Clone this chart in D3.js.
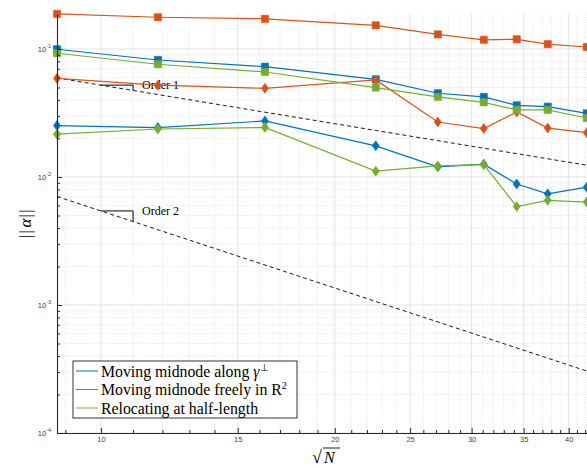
<!DOCTYPE html>
<html>
<head>
<meta charset="utf-8">
<script src="https://cdn.jsdelivr.net/npm/d3@7"></script>
<style>
  body { margin: 0; background: #fff; }
  svg { display: block; }
</style>
</head>
<body>
<svg id="chart" width="587" height="468"></svg>
<script>
// sqrt(N) at each refinement level
const sqrtN = [8.78, 11.84, 16.26, 22.58, 27.14, 31.10, 34.29, 37.59, 42.2];

// square markers (upper curves) and diamond markers (lower curves)
const alongSq = [0.0995, 0.0820, 0.0727, 0.0579, 0.0451, 0.0422, 0.0363, 0.0354, 0.0314];
const alongDi = [0.0252, 0.0243, 0.0274, 0.0175, 0.0120, 0.0126, 0.00881, 0.00738, 0.00832];
const freeSq = [0.188, 0.177, 0.172, 0.153, 0.130, 0.118, 0.119, 0.109, 0.1036];
const freeDi = [0.0590, 0.0521, 0.0493, 0.0573, 0.0269, 0.0239, 0.0322, 0.0241, 0.0222];
const halfSq = [0.0926, 0.0760, 0.0661, 0.0499, 0.0422, 0.0383, 0.0334, 0.0334, 0.0289];
const halfDi = [0.0216, 0.0237, 0.0244, 0.0111, 0.0122, 0.0125, 0.00587, 0.00657, 0.00637];

// reference slopes: end points and the little slope triangles (x from 10 to 11)
const orderX = [8.78, 43.5];
const order1Y = [0.0594, 0.01199];
const order2Y = [0.00704, 0.000287];
const triX = [10, 11];
const tri1Y = [0.0522, 0.0474];
const tri2Y = [0.00543, 0.00449];
const orderLabels = ['Order 1', 'Order 2'];

const xTicks = [10, 15, 20, 25, 30, 35, 40];
const yTicks = [1e-4, 1e-3, 1e-2, 1e-1];

const legendNames = ['Moving midnode along ', 'Moving midnode freely in R', 'Relocating at half-length'];
const colors = ['#0072BD', '#D95319', '#77AC30'];

const series = [
  {sq: alongSq, di: alongDi, color: colors[0]},
  {sq: freeSq, di: freeDi, color: colors[1]},
  {sq: halfSq, di: halfDi, color: colors[2]}
];

const svg = d3.select('#chart');
const x = d3.scaleLog().domain([8.78, 43.5]).range([57, 597]);
const y = d3.scaleLog().domain([1e-4, 0.1876]).range([433, 14]);
const [x0, x1] = x.range();
const [y0, y1] = y.range();

const xMinor = d3.range(9, 44).filter(v => !xTicks.includes(v));
const yMinor = [];
[-4, -3, -2].forEach(e => { for (let k = 2; k <= 9; k++) yMinor.push(k * Math.pow(10, e)); });

// grid
const grid = svg.append('g');
grid.selectAll('.vmin').data(xMinor).join('line')
  .attr('x1', d => x(d)).attr('x2', d => x(d)).attr('y1', y0).attr('y2', y1)
  .attr('stroke', '#cfcfcf').attr('stroke-width', 0.6).attr('stroke-dasharray', '1,1.5');
grid.selectAll('.hmin').data(yMinor).join('line')
  .attr('y1', d => y(d)).attr('y2', d => y(d)).attr('x1', x0).attr('x2', x1)
  .attr('stroke', '#cfcfcf').attr('stroke-width', 0.6).attr('stroke-dasharray', '1,1.5');
grid.selectAll('.vmaj').data(xTicks).join('line')
  .attr('x1', d => x(d)).attr('x2', d => x(d)).attr('y1', y0).attr('y2', y1)
  .attr('stroke', '#e3e3e3').attr('stroke-width', 1);
grid.selectAll('.hmaj').data(yTicks).join('line')
  .attr('y1', d => y(d)).attr('y2', d => y(d)).attr('x1', x0).attr('x2', x1)
  .attr('stroke', '#e3e3e3').attr('stroke-width', 1);

// reference lines
const line = d3.line().x(d => x(d[0])).y(d => y(d[1]));
[order1Y, order2Y].forEach(ys => {
  svg.append('path').datum(orderX.map((v, i) => [v, ys[i]]))
    .attr('d', line).attr('fill', 'none').attr('stroke', '#000')
    .attr('stroke-width', 0.9).attr('stroke-dasharray', '4,3');
});
[tri1Y, tri2Y].forEach((ys, i) => {
  const pts = [[triX[0], ys[0]], [triX[1], ys[0]], [triX[1], ys[1]]];
  svg.append('path').datum(pts).attr('d', line)
    .attr('fill', 'none').attr('stroke', '#000').attr('stroke-width', 1);
  svg.append('text').attr('x', x(triX[1]) + 9).attr('y', y(ys[0]))
    .attr('dy', '0.35em').attr('font-family', 'Liberation Serif, serif')
    .attr('font-size', 12).attr('fill', '#000').text(orderLabels[i]);
});

// data
const diamond = 'M0,-5L3.6,0L0,5L-3.6,0Z';
series.forEach(s => {
  ['sq', 'di'].forEach(k => {
    const pts = sqrtN.map((v, i) => [v, s[k][i]]);
    svg.append('path').datum(pts).attr('d', line)
      .attr('fill', 'none').attr('stroke', s.color).attr('stroke-width', 1.2);
    const m = svg.append('g').selectAll('path').data(pts).join('path')
      .attr('transform', d => `translate(${x(d[0])},${y(d[1])})`)
      .attr('fill', s.color).attr('stroke', s.color).attr('stroke-width', 0.6);
    if (k === 'sq') m.attr('d', 'M-3.6,-3.6H3.6V3.6H-3.6Z');
    else m.attr('d', diamond);
  });
});

// axes
const axisColor = '#262626';
svg.append('g').attr('transform', `translate(0,${y0})`)
  .call(d3.axisBottom(x).tickValues(xTicks).tickSize(-5).tickSizeOuter(0)
    .tickPadding(4).tickFormat(d3.format('d')));
svg.append('g').attr('transform', `translate(0,${y0})`)
  .call(d3.axisBottom(x).tickValues(xMinor).tickSize(-3).tickSizeOuter(0).tickFormat(''))
  .call(g => g.select('.domain').remove());
const yAxis = svg.append('g').attr('transform', `translate(${x0},0)`)
  .call(d3.axisLeft(y).tickValues(yTicks).tickSize(-5).tickSizeOuter(0).tickPadding(6));
svg.append('g').attr('transform', `translate(${x0},0)`)
  .call(d3.axisLeft(y).tickValues(yMinor).tickSize(-3).tickSizeOuter(0).tickFormat(''))
  .call(g => g.select('.domain').remove());

svg.selectAll('.domain, .tick line').attr('stroke', axisColor);
svg.selectAll('.domain').attr('stroke-width', 1.1);
svg.selectAll('.tick text').attr('fill', '#404040')
  .attr('font-family', 'Liberation Sans, Arial, sans-serif').attr('font-size', 7.5);

yAxis.selectAll('.tick text').each(function(d) {
  const t = d3.select(this).text('');
  t.append('tspan').text('10');
  t.append('tspan').attr('dy', -3.5).attr('font-size', 5.5).text(Math.round(Math.log10(d)));
});

// axis labels
const xl = svg.append('g').attr('transform', 'translate(327,463)')
  .attr('font-family', 'Liberation Serif, serif');
xl.append('text').attr('x', -15).attr('y', 0).attr('font-size', 18).text('√');
xl.append('text').attr('x', -3).attr('y', 0).attr('font-size', 16)
  .attr('font-style', 'italic').text('N');
xl.append('line').attr('x1', -4).attr('x2', 13).attr('y1', -15).attr('y2', -15)
  .attr('stroke', '#000').attr('stroke-width', 0.9);

svg.append('text').attr('transform', 'translate(31,223) rotate(-90)')
  .attr('text-anchor', 'middle').attr('font-family', 'Liberation Serif, serif')
  .attr('font-size', 17)
  .call(t => {
    t.append('tspan').attr('letter-spacing', 1.5).text('||');
    t.append('tspan').attr('font-style', 'italic').attr('dx', 1).text('α');
    t.append('tspan').attr('letter-spacing', 1.5).attr('dx', 1).text('||');
  });

// legend
const lg = svg.append('g');
lg.append('rect').attr('x', 73).attr('y', 361).attr('width', 224).attr('height', 57)
  .attr('fill', '#fff').attr('stroke', '#000').attr('stroke-width', 0.8);
const sups = ['⊥', '2', ''];
legendNames.forEach((name, i) => {
  const cy = 371 + i * 18.5;
  lg.append('line').attr('x1', 76).attr('x2', 98).attr('y1', cy).attr('y2', cy)
    .attr('stroke', colors[i]).attr('stroke-width', 1);
  const t = lg.append('text').attr('x', 101).attr('y', cy).attr('dy', '0.35em')
    .attr('font-family', 'Liberation Serif, serif').attr('font-size', 15.8).attr('fill', '#000');
  t.append('tspan').text(name);
  if (i === 0) t.append('tspan').attr('font-style', 'italic').text('γ');
  if (sups[i]) t.append('tspan').attr('dy', -6).attr('font-size', 10).text(sups[i]);
});
</script>
</body>
</html>
